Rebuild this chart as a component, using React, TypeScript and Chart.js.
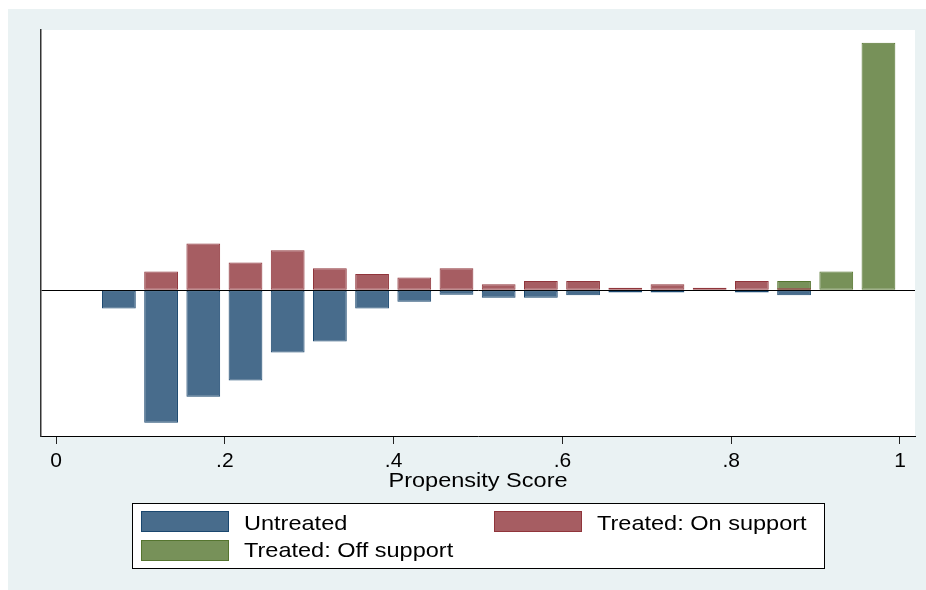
import React, { useEffect, useRef } from "react";
import { Chart, registerables } from "chart.js";

Chart.register(...registerables);

// Bin centres of the propensity-score histogram
const binCenters = [
  0.0745, 0.1245, 0.1745, 0.2245, 0.2745, 0.3245, 0.3745, 0.4245, 0.4745, 0.5245,
  0.5745, 0.6245, 0.6745, 0.7245, 0.7745, 0.8245, 0.8745, 0.9245, 0.9745,
];

// Untreated (drawn downward)
const untreated = [
  -4.1, -30.0, -24.1, -20.4, -14.1, -11.6, -4.1, -2.6, -1.0, -1.7,
  -1.7, -1.1, -0.5, -0.5, null, -0.5, -1.1, null, null,
];

// Treated: On support (drawn upward)
const treatedOn = [
  null, 4.3, 10.6, 6.3, 9.1, 5.0, 3.7, 2.9, 5.0, 1.4,
  2.1, 2.1, 0.6, 1.4, 0.6, 2.1, 0.5, null, null,
];

// Treated: Off support (drawn upward)
const treatedOff = [
  null, null, null, null, null, null, null, null, null, null,
  null, null, null, null, null, null, 2.1, 4.25, 56.1,
];

const xTickValues = [0, 0.2, 0.4, 0.6, 0.8, 1];
const xTickLabels = ["0", ".2", ".4", ".6", ".8", "1"];
const seriesLabels = ["Untreated", "Treated: On support", "Treated: Off support"];
const xAxisTitle = "Propensity Score";

const FONT = "'Liberation Sans', Arial, Helvetica, sans-serif";

const toPoints = (vals: (number | null)[]) =>
  binCenters.map((x, i) => ({ x, y: vals[i] }));

const backgroundPlugin = {
  id: "stataBackground",
  beforeDraw(chart: any) {
    const { ctx, width, height, chartArea } = chart;
    ctx.save();
    ctx.fillStyle = "#ffffff";
    ctx.fillRect(0, 0, width, height);
    ctx.fillStyle = "#EAF2F3";
    ctx.fillRect(8, 9, width - 8, height - 9);
    ctx.fillStyle = "#ffffff";
    ctx.fillRect(
      chartArea.left - 1,
      chartArea.top,
      chartArea.right - chartArea.left + 1,
      chartArea.bottom - chartArea.top
    );
    ctx.restore();
  },
};

const drawStretched = (ctx: any, text: string, x: number, y: number, size: number, sx: number, align: string) => {
  ctx.save();
  ctx.font = `${size}px ${FONT}`;
  const w = ctx.measureText(text).width * sx;
  const left = align === "center" ? x - w / 2 : x;
  ctx.translate(left, y);
  ctx.scale(sx, 1);
  ctx.fillStyle = "#000000";
  ctx.textBaseline = "alphabetic";
  ctx.textAlign = "left";
  ctx.fillText(text, 0, 0);
  ctx.restore();
};

const legendPlugin = {
  id: "stataLegend",
  afterDraw(chart: any) {
    const { ctx, chartArea } = chart;
    const ds = chart.data.datasets;
    ctx.save();
    // x-axis title
    drawStretched(ctx, xAxisTitle, (chartArea.left + chartArea.right) / 2, 487, 21, 1.12, "center");
    // legend box
    ctx.fillStyle = "#ffffff";
    ctx.fillRect(132.5, 503.5, 692, 65);
    ctx.strokeStyle = "#000000";
    ctx.lineWidth = 1;
    ctx.strokeRect(132.5, 503.5, 692, 65);
    const items = [
      { i: 0, sx: 141, sy: 511, tx: 244, ty: 529.5 },
      { i: 1, sx: 494, sy: 511, tx: 597, ty: 529.5 },
      { i: 2, sx: 141, sy: 540, tx: 244, ty: 557 },
    ];
    items.forEach((it) => {
      const d = ds[it.i];
      ctx.fillStyle = d.backgroundColor;
      ctx.fillRect(it.sx, it.sy, 88, 21);
      ctx.strokeStyle = d.borderColor;
      ctx.lineWidth = 1;
      ctx.strokeRect(it.sx + 0.5, it.sy + 0.5, 87, 20);
      drawStretched(ctx, d.label, it.tx, it.ty, 21, 1.12, "left");
    });
    ctx.restore();
  },
};

export default function App() {
  const canvasRef = useRef<HTMLCanvasElement | null>(null);

  useEffect(() => {
    document.body.style.margin = "0";
    const canvas = canvasRef.current;
    if (!canvas) return;
    const common = {
      grouped: false,
      borderWidth: 1,
      borderSkipped: false,
      categoryPercentage: 1.0,
      barPercentage: 0.8,
    };
    const chart = new Chart(canvas, {
      type: "bar",
      data: {
        datasets: [
          {
            ...common,
            label: seriesLabels[0],
            data: toPoints(untreated),
            backgroundColor: "rgb(72,108,140)",
            borderColor: "rgb(26,71,111)",
          },
          {
            ...common,
            label: seriesLabels[1],
            data: toPoints(treatedOn),
            backgroundColor: "rgb(166,93,98)",
            borderColor: "rgb(144,53,59)",
          },
          {
            ...common,
            label: seriesLabels[2],
            data: toPoints(treatedOff),
            backgroundColor: "rgb(119,145,89)",
            borderColor: "rgb(85,117,47)",
          },
        ] as any,
      },
      options: {
        animation: false,
        responsive: false,
        devicePixelRatio: 1,
        layout: { padding: { left: 41, right: 11, top: 30, bottom: 0 } },
        plugins: {
          legend: { display: false },
          tooltip: { enabled: false },
          title: { display: false },
        },
        scales: {
          x: {
            type: "linear",
            min: -0.0178,
            max: 1.0178,
            offset: false,
            afterFit: (s: any) => {
              s.height = 154;
            },
            afterBuildTicks: (s: any) => {
              s.ticks = xTickValues.map((v) => ({ value: v }));
            },
            grid: {
              display: true,
              offset: false,
              drawOnChartArea: false,
              drawTicks: true,
              tickLength: 8,
              color: "#222222",
              lineWidth: 1,
            },
            border: { display: true, color: "#000000", width: 1 },
            ticks: {
              padding: 5,
              color: "#000000",
              font: { family: FONT, size: 21 },
              maxRotation: 0,
              autoSkip: false,
              callback: (value: any) => {
                const idx = xTickValues.findIndex((v) => Math.abs(v - Number(value)) < 1e-9);
                return idx >= 0 ? xTickLabels[idx] : "";
              },
            },
            title: { display: false },
          },
          y: {
            type: "linear",
            min: -33,
            max: 59,
            afterFit: (s: any) => {
              s.width = 0;
            },
            ticks: { display: false, stepSize: 10 },
            grid: {
              drawTicks: false,
              color: (c: any) => (c.tick && c.tick.value === 0 ? "#000000" : "rgba(0,0,0,0)"),
              lineWidth: 1,
            },
            border: { display: true, color: "#333333", width: 1.5 },
          },
        },
      } as any,
      plugins: [backgroundPlugin, legendPlugin],
    });
    return () => chart.destroy();
  }, []);

  return (
    <div style={{ width: 926, height: 590, margin: 0, padding: 0 }}>
      <canvas ref={canvasRef} width={926} height={590} style={{ display: "block" }} />
    </div>
  );
}
